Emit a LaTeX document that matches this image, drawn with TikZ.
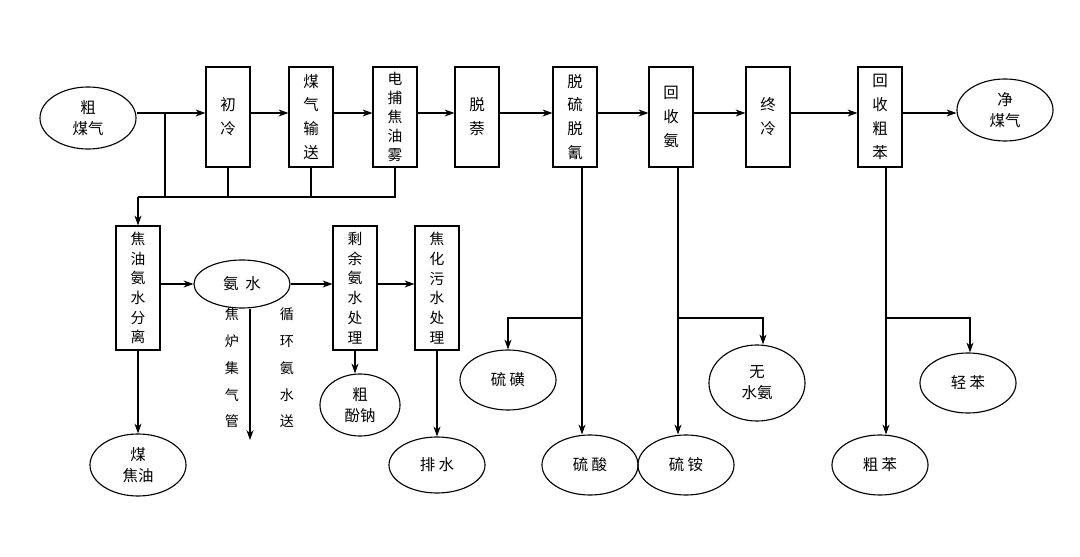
\documentclass[tikz,border=0pt]{standalone}
\usepackage{fontspec}
\setmainfont{Noto Sans CJK SC}
\usetikzlibrary{positioning,arrows.meta,shapes.geometric}
\tikzset{
  box/.style={draw,thick,minimum width=1.1cm,minimum height=2.5cm,align=center,inner sep=1pt,font=\fontsize{11}{17}\selectfont},
  tallbox/.style={box,font=\fontsize{10.5}{13.5}\selectfont},
  lowbox/.style={box,minimum height=3.1cm,font=\fontsize{10.5}{14}\selectfont},
  oval/.style={draw,thick,ellipse,minimum width=2.4cm,minimum height=1.55cm,align=center,inner sep=0pt,font=\fontsize{11}{15}\selectfont},
  flow/.style={thick,-{Stealth[length=7pt,width=5pt]}},
  line/.style={thick}
}
\begin{document}
\begin{tikzpicture}[x=0.025cm,y=-0.025cm]
  \useasboundingbox (0,0) rectangle (1080,557);
  % top row
  \node[oval] (raw) at (88,118) {粗\\煤气};
  \node[box] (b1) at (228,117) {初\\冷};
  \node[box] (b2) at (311,117) {煤\\气\\输\\送};
  \node[tallbox] (b3) at (395,117) {电\\捕\\焦\\油\\雾};
  \node[box] (b4) at (477,117) {脱\\萘};
  \node[box] (b5) at (575,117) {脱\\硫\\脱\\氰};
  \node[box] (b6) at (671,117) {回\\收\\氨};
  \node[box] (b7) at (768,117) {终\\冷};
  \node[box] (b8) at (880,117) {回\\收\\粗\\苯};
  \node[oval] (clean) at (1005,110) {净\\煤气};
  % bottom row
  \node[lowbox] (sep) at (138,288) {焦\\油\\氨\\水\\分\\离};
  \node[oval,minimum width=2.4cm,minimum height=1.2cm] (ammo) at (242,284) {氨\ \ 水};
  \node[lowbox] (rest) at (355,288) {剩\\余\\氨\\水\\处\\理};
  \node[lowbox] (waste) at (437,288) {焦\\化\\污\\水\\处\\理};
  \node[oval] (tar) at (138,465) {煤\\焦油};
  \node[oval,minimum width=2cm] (phen) at (360,405) {粗\\酚钠};
  \node[oval,minimum height=1.4cm] (drain) at (437,465) {排\ 水};
  \node[oval,minimum height=1.5cm] (sulf) at (508,380) {硫\ 磺};
  \node[oval,minimum height=1.5cm] (acid) at (590,465) {硫\ 酸};
  \node[oval,minimum height=1.5cm] (amsul) at (686,465) {硫\ 铵};
  \node[oval,minimum height=1.9cm] (anh) at (757,383) {无\\水氨};
  \node[oval,minimum height=1.5cm] (crude) at (880,465) {粗\ 苯};
  \node[oval,minimum height=1.5cm] (light) at (968,383) {轻\ 苯};
  \node[align=center,font=\fontsize{10}{19}\selectfont] (lbl1) at (232,368) {焦\\炉\\集\\气\\管};
  \node[align=center,font=\fontsize{10}{19}\selectfont] (lbl2) at (287,368) {循\\环\\氨\\水\\送};
  % main gas line
  \draw[flow] (raw.east |- 0,113) -- (b1.west |- 0,113);
  \foreach \a/\b in {b1/b2,b2/b3,b3/b4,b4/b5,b5/b6,b6/b7,b7/b8,b8/clean}
    \draw[flow] (\a.east |- 0,113) -- (\b.west |- 0,113);
  % condensate collection
  \coordinate (c0) at (165,113);
  \coordinate (c1) at (138,197);
  \draw[line] (c0) -- (c0 |- c1);
  \draw[line] (b1.south) -- (b1.south |- c1);
  \draw[line] (b2.south) -- (b2.south |- c1);
  \draw[line] (b3.south) -- (b3.south |- c1) -- (c1);
  \draw[flow] (c1) -- (sep.north);
  \draw[flow] (sep.east |- ammo) -- (ammo.west);
  \draw[flow] (sep.south) -- (tar.north);
  \draw[flow] (ammo.east) -- (rest.west |- ammo);
  \draw[flow] (rest.east |- ammo) -- (waste.west |- ammo);
  \coordinate (e1) at (250,440);
  \draw[flow] (ammo.south -| e1) -- (e1);
  \draw[flow] (rest.south) -- (rest.south |- phen.north);
  \draw[flow] (waste.south) -- (drain.north);
  % products
  \coordinate (d1) at (582,318);
  \draw[flow] (b5.south -| d1) -- (d1 |- acid.north);
  \draw[flow] (d1) -- (d1 -| sulf) -- (sulf.north);
  \coordinate (d2) at (678,318);
  \draw[flow] (b6.south -| d2) -- (d2 |- amsul.north);
  \draw[flow] (d2) -- (d2 -| 763,0) -- (anh.north -| 763,0);
  \coordinate (d3) at (886,318);
  \draw[flow] (b8.south -| d3) -- (d3 |- crude.north);
  \draw[flow] (d3) -- (d3 -| 970,0) -- (light.north -| 970,0);
\end{tikzpicture}
\end{document}
